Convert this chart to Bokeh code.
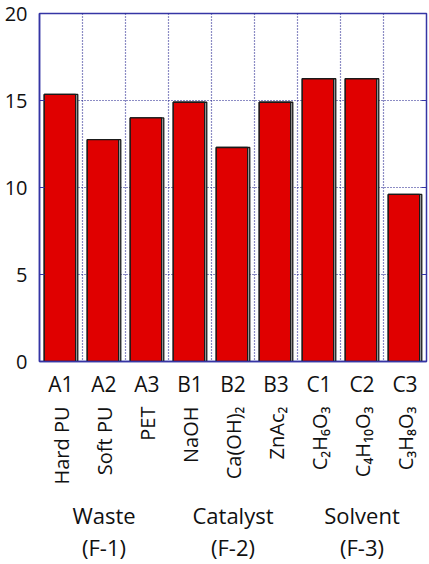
import math
from bokeh.plotting import figure
from bokeh.models import (FactorRange, Range1d, FixedTicker, CategoricalAxis, LinearAxis, Span,
                          CustomJSTickFormatter)
from bokeh.transform import dodge
from bokeh.embed import file_html
from bokeh.resources import INLINE

categories = ["A1", "A2", "A3", "B1", "B2", "B3", "C1", "C2", "C3"]
names = ["Hard PU", "Soft PU", "PET", "NaOH", "Ca(OH)\u2082", "ZnAc\u2082",
         "C\u2082H\u2086O\u2083", "C\u2084H\u2081\u2080O\u2083", "C\u2083H\u2088O\u2083"]
values = [15.35, 12.75, 14.0, 14.9, 12.3, 14.9, 16.25, 16.25, 9.6]
groups = ["Waste", "Catalyst", "Solvent"]
group_codes = ["(F-1)", "(F-2)", "(F-3)"]
y_ticks = [0, 5, 10, 15, 20]

FONT = "Open Sans"
FRAME = "#3535a5"
GRID = "#1a1a8a"
TXT = "#111111"

p = figure(x_range=FactorRange(*categories), y_range=Range1d(0, 20),
           width=429, height=564, output_backend="svg", toolbar_location=None,
           min_border_left=39, min_border_right=3, min_border_top=13, min_border_bottom=203)
p.outline_line_color = FRAME
p.outline_line_width = 1.5
p.extra_x_ranges = {
    "names": FactorRange(*names),
    "groups": FactorRange(*groups),
    "codes": FactorRange(*group_codes),
}

src = dict(x=categories, top=values)
p.vbar(x="x", top="top", width=0.78, source=src, fill_color="#bdbdbd",
       line_color="#1a1a1a", line_width=1.3)
p.vbar(x=dodge("x", -0.025, range=p.x_range), top="top", width=0.73, source=src,
       fill_color="#e00000", line_color="#1a1a1a", line_width=1.3)

# grids
p.xgrid.grid_line_color = None
p.ygrid.ticker = FixedTicker(ticks=y_ticks[1:-1])
p.ygrid.grid_line_color = GRID
p.ygrid.grid_line_dash = "1 2"
p.ygrid.grid_line_width = 1.2
p.ygrid.level = "underlay"
for i in range(1, len(categories)):
    p.add_layout(Span(location=i, dimension="height", line_color=GRID,
                      line_dash="1 2", line_width=1.2, level="underlay"))

# y axis
p.yaxis.ticker = FixedTicker(ticks=y_ticks)
p.yaxis.axis_line_color = FRAME
p.yaxis.axis_line_width = 1.5
p.yaxis.major_tick_line_color = FRAME
p.yaxis.major_tick_in = 5
p.yaxis.major_tick_out = 0
p.yaxis.minor_tick_line_color = None
p.yaxis.major_label_text_font = FONT
p.yaxis.major_label_text_font_size = "20px"
p.yaxis.major_label_text_color = TXT
p.yaxis.major_label_standoff = 12

ry = LinearAxis(ticker=FixedTicker(ticks=y_ticks), formatter=CustomJSTickFormatter(code="return ''"),
                axis_line_color=None, major_tick_line_color=FRAME, major_tick_in=5,
                major_tick_out=0, minor_tick_line_color=None, major_label_standoff=0)
p.add_layout(ry, "right")

# x axes
xa = p.xaxis[0]
xa.axis_line_color = FRAME
xa.axis_line_width = 1.5
xa.major_tick_line_color = None
xa.minor_tick_line_color = None
xa.major_label_text_font = FONT
xa.major_label_text_font_size = "21px"
xa.major_label_text_color = TXT
xa.major_label_standoff = 2

def extra_axis(rng, size, orientation="horizontal", standoff=4):
    ax = CategoricalAxis(x_range_name=rng, axis_line_color=None, major_tick_line_color=None,
                         minor_tick_line_color=None, major_label_text_font=FONT,
                         major_label_text_font_size=size, major_label_text_color=TXT,
                         major_label_standoff=standoff, major_label_orientation=orientation)
    p.add_layout(ax, "below")
    return ax

extra_axis("names", "20px", math.pi / 2, 0)
extra_axis("groups", "22px", "horizontal", 6)
extra_axis("codes", "22px", "horizontal", -7)

open("out.html", "w").write(file_html(p, INLINE))
